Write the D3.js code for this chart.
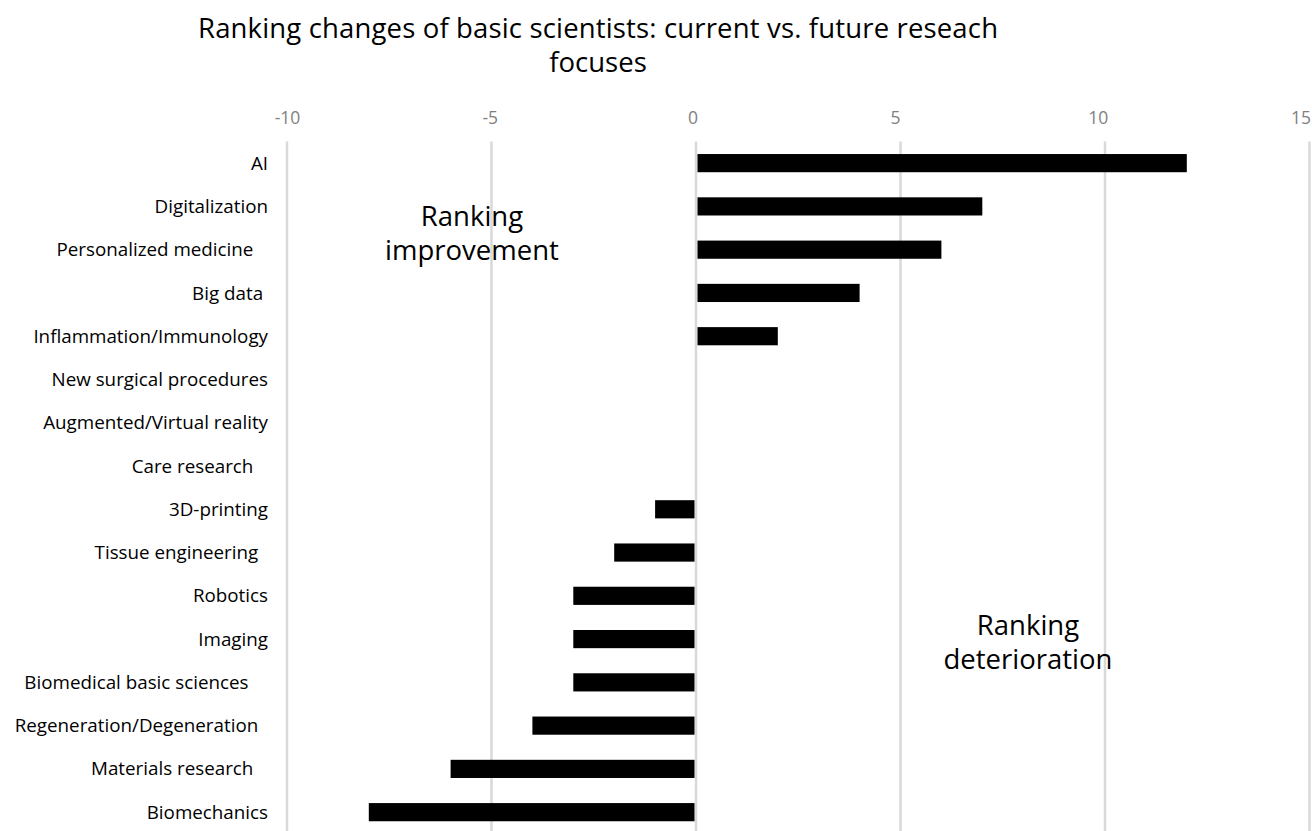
<!DOCTYPE html>
<html>
<head>
<meta charset="utf-8">
<script src="https://cdn.jsdelivr.net/npm/d3@7"></script>
<style>
  html, body { margin: 0; padding: 0; background: #fff; }
  svg { display: block; font-family: "Open Sans", "Noto Sans", sans-serif; }
  text { white-space: pre; }
</style>
</head>
<body>
<svg id="chart" width="1312" height="831"></svg>
<script>
// Research focuses, top to bottom, with the change in ranking (future minus current)
const categories = [
  "AI", "Digitalization", "Personalized medicine   ", "Big data ",
  "Inflammation/Immunology", "New surgical procedures", "Augmented/Virtual reality",
  "Care research   ", "3D-printing", "Tissue engineering  ", "Robotics", "Imaging",
  "Biomedical basic sciences    ", "Regeneration/Degeneration  ", "Materials research   ",
  "Biomechanics"
];
const rankChange = [12, 7, 6, 4, 2, 0, 0, 0, -1, -2, -3, -3, -3, -4, -6, -8];
const tickValues = [-10, -5, 0, 5, 10, 15];
const titleLines = ["Ranking changes of basic scientists: current vs. future reseach", "focuses"];
const noteImprove = ["Ranking", "improvement"];
const noteDeterior = ["Ranking", "deterioration"];

const data = categories.map((c, i) => ({ name: c, value: rankChange[i] }));

const svg = d3.select("#chart");
const plot = { left: 287, right: 1309.5, top: 141.5, bottom: 833.8 };

const x = d3.scaleLinear().domain([-10, 15]).range([plot.left, plot.right]);
const y = d3.scaleBand().domain(categories).range([plot.top, plot.bottom])
  .paddingInner(0.58).paddingOuter(0.29);

// Title
svg.append("g").selectAll("text").data(titleLines).join("text")
  .attr("x", 598).attr("y", (d, i) => 38 + i * 34)
  .attr("text-anchor", "middle")
  .attr("font-size", 27.5)
  .attr("textLength", (d, i) => i === 0 ? 800 : null)
  .attr("fill", "#000")
  .text(d => d);

// Vertical gridlines
svg.append("g").selectAll("line").data(tickValues).join("line")
  .attr("x1", d => x(d)).attr("x2", d => x(d))
  .attr("y1", plot.top).attr("y2", plot.bottom)
  .attr("stroke", "#d9d9d9").attr("stroke-width", 2.5);

// Corner annotations
function note(lines, cx, y0) {
  svg.append("g").selectAll("text").data(lines).join("text")
    .attr("x", cx).attr("y", (d, i) => y0 + i * 34)
    .attr("text-anchor", "middle")
    .attr("font-size", 27.5)
    .attr("fill", "#000")
    .text(d => d);
}
note(noteImprove, 472, 226);
note(noteDeterior, 1028, 635);

// Bars, with a small gap either side of the zero line
const gap = 1.5;
svg.append("g").selectAll("rect").data(data.filter(d => d.value !== 0)).join("rect")
  .attr("x", d => d.value > 0 ? x(0) + gap : x(d.value))
  .attr("width", d => Math.abs(x(d.value) - x(0)) - gap)
  .attr("y", d => y(d.name))
  .attr("height", y.bandwidth())
  .attr("fill", "#000");

// Top axis tick labels
const axis = d3.axisTop(x).tickValues(tickValues).tickSize(0).tickPadding(0)
  .tickFormat(d => String(d));
const gAxis = svg.append("g").attr("transform", "translate(0,124)").call(axis);
gAxis.select(".domain").remove();
gAxis.selectAll("text")
  .attr("font-family", "'Open Sans', sans-serif")
  .attr("font-size", 17.5)
  .attr("fill", "#7f7f7f")
  .attr("dx", d => -(d + 10) * 0.36);

// Category labels
svg.append("g").selectAll("text").data(data).join("text")
  .attr("x", 268)
  .attr("y", d => y(d.name) + y.bandwidth() / 2)
  .attr("dy", "0.35em")
  .attr("text-anchor", "end")
  .attr("font-size", 18.8)
  .attr("fill", "#000")
  .text(d => d.name);
</script>
</body>
</html>
